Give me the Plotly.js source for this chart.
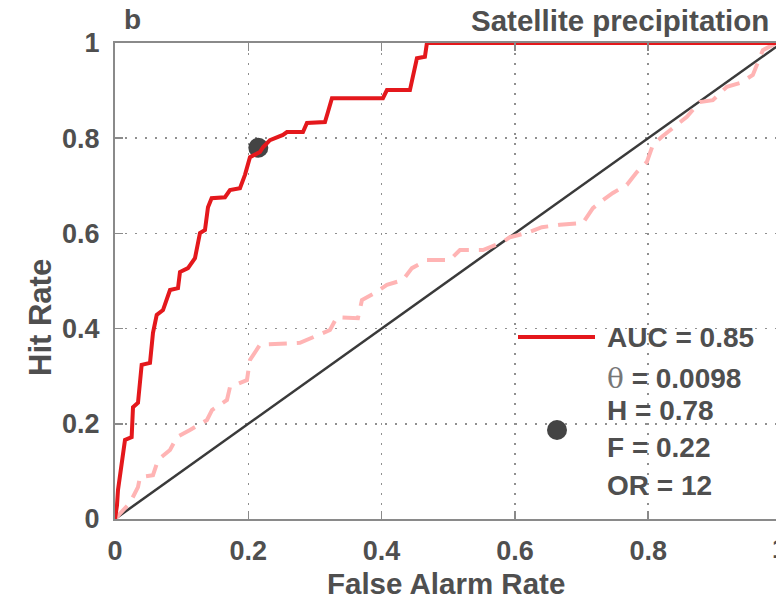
<!DOCTYPE html>
<html>
<head>
<meta charset="utf-8">
<script src="https://cdn.plot.ly/plotly-3.0.1.min.js"></script>
<style>html,body{margin:0;padding:0;background:#fff;}</style>
</head>
<body>
<div id="chart" style="width:776px;height:601px;"></div>
<script>
// ROC curve (satellite precipitation) – false alarm rate vs hit rate
const rocF = [0, 0.003, 0.0045, 0.0075, 0.010, 0.012, 0.015, 0.025, 0.027, 0.0345, 0.040, 0.0525, 0.057, 0.0626, 0.072, 0.0825, 0.0945, 0.0975, 0.1095, 0.120, 0.1275, 0.135, 0.1395, 0.145, 0.165, 0.1725, 0.1875, 0.195, 0.1995, 0.2025, 0.2175, 0.222, 0.2325, 0.252, 0.258, 0.282, 0.288, 0.315, 0.3195, 0.3255, 0.402, 0.408, 0.4425, 0.447, 0.453, 0.465, 0.468, 1.0];
const rocH = [0, 0.029, 0.061, 0.092, 0.118, 0.141, 0.166, 0.172, 0.235, 0.244, 0.324, 0.328, 0.391, 0.429, 0.439, 0.481, 0.485, 0.519, 0.527, 0.548, 0.601, 0.607, 0.655, 0.674, 0.676, 0.691, 0.695, 0.723, 0.750, 0.760, 0.771, 0.781, 0.796, 0.807, 0.813, 0.813, 0.832, 0.834, 0.855, 0.884, 0.884, 0.901, 0.901, 0.929, 0.968, 0.971, 1.0, 1.0];
// Reference (pink dashed) ROC curve
const refF = [0, 0.0225, 0.0345, 0.0375, 0.057, 0.0645, 0.0825, 0.093, 0.1125, 0.138, 0.1455, 0.168, 0.1725, 0.198, 0.2025, 0.2175, 0.2775, 0.3225, 0.333, 0.3645, 0.3705, 0.390, 0.408, 0.432, 0.4455, 0.468, 0.5025, 0.5175, 0.552, 0.582, 0.5925, 0.618, 0.6405, 0.6675, 0.702, 0.717, 0.732, 0.747, 0.768, 0.783, 0.798, 0.807, 0.8205, 0.843, 0.858, 0.8775, 0.897, 0.918, 0.938, 0.957, 0.965, 0.972, 0.987, 1.0];
const refH = [0, 0.034, 0.067, 0.088, 0.092, 0.124, 0.145, 0.172, 0.187, 0.208, 0.229, 0.250, 0.277, 0.292, 0.334, 0.366, 0.370, 0.397, 0.424, 0.422, 0.460, 0.475, 0.492, 0.502, 0.527, 0.544, 0.544, 0.565, 0.565, 0.582, 0.592, 0.601, 0.613, 0.618, 0.622, 0.653, 0.670, 0.685, 0.702, 0.729, 0.750, 0.786, 0.803, 0.828, 0.845, 0.876, 0.880, 0.908, 0.916, 0.933, 0.964, 0.985, 0.996, 1.0];
// No-skill diagonal
const diagF = [0, 1];
const diagH = [0, 1];
// Optimal operating point
const opF = [0.215];
const opH = [0.78];
// Axis ticks
const xTicks = [0, 0.2, 0.4, 0.6, 0.8];
const xTickText = ['0', '0.2', '0.4', '0.6', '0.8'];
const yTicks = [0, 0.2, 0.4, 0.6, 0.8, 1];
const yTickText = ['0', '0.2', '0.4', '0.6', '0.8', '1'];
// Legend text
const legendLines = ['AUC = 0.85', '<span style="font-family:\'DejaVu Serif\';font-weight:normal;color:#777777">θ</span> = 0.0098', 'H = 0.78', 'F = 0.22', 'OR = 12'];

const FONT = 'Liberation Sans, Arial, sans-serif';
const TXT = '#4f4f4f';
const RED = '#e4181c';

const traces = [
  {x: diagF, y: diagH, mode: 'lines', line: {color: '#3a3a3a', width: 2.5}, hoverinfo: 'skip', showlegend: false},
  {x: refF, y: refH, mode: 'lines', line: {color: '#ffb4b4', width: 4, dash: '18px,10px'}, showlegend: false},
  {x: opF, y: opH, mode: 'markers', marker: {color: '#444444', size: 20}, showlegend: false},
  {x: rocF, y: rocH, mode: 'lines', line: {color: RED, width: 4}, showlegend: false}
];

const px = (p) => (p - 115) / 661;
const py = (p) => (519 - p) / 476;

const boldFont = (s) => ({family: FONT, size: s, color: TXT, weight: 'bold'});

const legendY = [337, 378, 410, 447, 485];
const annotations = legendLines.map((t, i) => ({
  text: t, xref: 'paper', yref: 'paper', x: px(605), y: py(legendY[i]),
  xanchor: 'left', yanchor: 'middle', showarrow: false, font: boldFont(28)
}));
annotations.push({text: 'b', xref: 'paper', yref: 'paper', x: px(122), y: py(20), xanchor: 'left', yanchor: 'middle', showarrow: false, font: boldFont(28)});
annotations.push({text: 'Satellite precipitation', xref: 'paper', yref: 'paper', x: px(771), y: py(21), xanchor: 'right', yanchor: 'middle', showarrow: false, font: boldFont(29.5)});
annotations.push({text: '1', xref: 'paper', yref: 'paper', x: px(779), y: py(549), xanchor: 'center', yanchor: 'middle', showarrow: false, font: boldFont(27)});
annotations.push({text: 'False Alarm Rate', xref: 'paper', yref: 'paper', x: px(446), y: py(583), xanchor: 'center', yanchor: 'middle', showarrow: false, font: boldFont(29.5)});
annotations.push({text: 'Hit Rate', xref: 'paper', yref: 'paper', x: px(40), y: py(318), xanchor: 'center', yanchor: 'middle', textangle: -90, showarrow: false, font: boldFont(31)});

const shapes = [
  {type: 'line', xref: 'paper', yref: 'paper', x0: px(518), x1: px(595), y0: py(337), y1: py(337), line: {color: RED, width: 4}},
  {type: 'circle', xref: 'paper', yref: 'paper', x0: px(547), x1: px(567), y0: py(440), y1: py(420), fillcolor: '#444444', line: {width: 0}}
];

const axisCommon = {
  showline: true, linecolor: '#8a8a8a', linewidth: 2,
  ticks: 'inside', ticklen: 8, tickcolor: '#8a8a8a', tickwidth: 1.5,
  showgrid: true, gridcolor: '#8f8f8f', griddash: '2px,8px', gridwidth: 1.5,
  zeroline: false, automargin: false,
  tickfont: boldFont(27)
};

const layout = {
  width: 776, height: 601,
  margin: {l: 115, r: 0, t: 43, b: 82, pad: 0},
  paper_bgcolor: '#ffffff', plot_bgcolor: '#ffffff',
  font: {family: FONT, color: TXT},
  showlegend: false,
  xaxis: Object.assign({}, axisCommon, {
    range: [0, 661 / 666.5], tickvals: xTicks, ticktext: xTickText,
    mirror: 'ticks', ticklabelstandoff: 7
  }),
  yaxis: Object.assign({}, axisCommon, {
    range: [0, 1], tickvals: yTicks, ticktext: yTickText,
    ticklabelstandoff: 8
  }),
  annotations: annotations,
  shapes: shapes
};

Plotly.newPlot('chart', traces, layout, {staticPlot: true, displayModeBar: false});
</script>
</body>
</html>
